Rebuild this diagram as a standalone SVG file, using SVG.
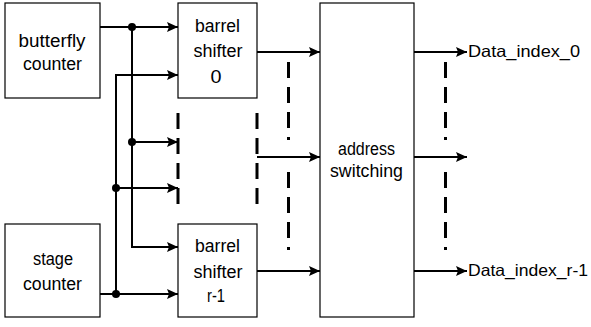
<svg xmlns="http://www.w3.org/2000/svg" width="591" height="327" viewBox="0 0 591 327">
<style>
.box{fill:#fff;stroke:#000;stroke-width:1.2}
.w{fill:none;stroke:#000;stroke-width:2}
.a{marker-end:url(#ah)}
.d{fill:none;stroke:#000;stroke-width:3;stroke-dasharray:16 9}
.dd{fill:none;stroke:#000;stroke-width:3;stroke-dasharray:16 9 16 9 16 9 3 100}
.t{font-family:"Liberation Sans",Arial,sans-serif;font-size:17.5px;fill:#000;text-anchor:middle}
.tl{font-family:"Liberation Sans",Arial,sans-serif;font-size:16.5px;fill:#000}
</style>
<defs>
<marker id="ah" markerUnits="userSpaceOnUse" markerWidth="12" markerHeight="10" refX="11" refY="5" orient="auto">
<path d="M0,0 L11,5 L0,10 L2,5 z" fill="#000"/>
</marker>
</defs>
<rect width="591" height="327" fill="#fff"/>
<g id="connectors">
<path class="w a" d="M100,27 H178"/>
<path class="w a" d="M132,27 V247 H178"/>
<path class="w a" d="M132,142 H178"/>
<path class="w a" d="M116,294 V75 H178"/>
<path class="w a" d="M116,188 H178"/>
<path class="w a" d="M100,294 H178"/>
<path class="w a" d="M257,52 H320"/>
<path class="w a" d="M257,271 H320"/>
<path class="w a" d="M257,157 H320"/>
<path class="w a" d="M414,52 H467"/>
<path class="w a" d="M414,157 H467"/>
<path class="w a" d="M414,271 H467"/>
<circle cx="132" cy="27" r="4"/>
<circle cx="132" cy="142" r="4"/>
<circle cx="116" cy="188" r="4"/>
<circle cx="116" cy="294" r="4"/>
<path class="d" d="M178,113 V205"/>
<path class="d" d="M257,113 V205"/>
<path class="dd" d="M288.5,62 V141"/>
<path class="dd" d="M288.5,172 V251"/>
<path class="dd" d="M445.5,62 V141"/>
<path class="dd" d="M445.5,172 V251"/>
</g>
<g id="butterfly-counter">
<rect class="box" x="5" y="3" width="95" height="95"/>
<text class="t" x="52" y="47" textLength="67" lengthAdjust="spacingAndGlyphs">butterfly</text>
<text class="t" x="52.5" y="70" textLength="59" lengthAdjust="spacingAndGlyphs">counter</text>
</g>
<g id="stage-counter">
<rect class="box" x="5" y="224" width="95" height="93"/>
<text class="t" x="53" y="265" textLength="40" lengthAdjust="spacingAndGlyphs">stage</text>
<text class="t" x="52.5" y="290" textLength="59" lengthAdjust="spacingAndGlyphs">counter</text>
</g>
<g id="barrel-shifter-0">
<rect class="box" x="178" y="3" width="79" height="95"/>
<text class="t" x="217.5" y="32" textLength="45" lengthAdjust="spacingAndGlyphs">barrel</text>
<text class="t" x="218" y="57" textLength="49" lengthAdjust="spacingAndGlyphs">shifter</text>
<text class="t" x="216" y="83" textLength="11" lengthAdjust="spacingAndGlyphs">0</text>
</g>
<g id="barrel-shifter-r-1">
<rect class="box" x="178" y="224" width="79" height="93"/>
<text class="t" x="217.5" y="252" textLength="45" lengthAdjust="spacingAndGlyphs">barrel</text>
<text class="t" x="218" y="278" textLength="49" lengthAdjust="spacingAndGlyphs">shifter</text>
<text class="t" x="216" y="302" textLength="18" lengthAdjust="spacingAndGlyphs">r-1</text>
</g>
<g id="address-switching">
<rect class="box" x="320" y="3" width="94" height="314"/>
<text class="t" x="366.5" y="155" textLength="57" lengthAdjust="spacingAndGlyphs">address</text>
<text class="t" x="366.5" y="177" textLength="73" lengthAdjust="spacingAndGlyphs">switching</text>
</g>
<g id="outputs">
<text class="tl" x="468" y="57" textLength="112" lengthAdjust="spacingAndGlyphs">Data_index_0</text>
<text class="tl" x="468" y="276" textLength="120" lengthAdjust="spacingAndGlyphs">Data_index_r-1</text>
</g>
</svg>
